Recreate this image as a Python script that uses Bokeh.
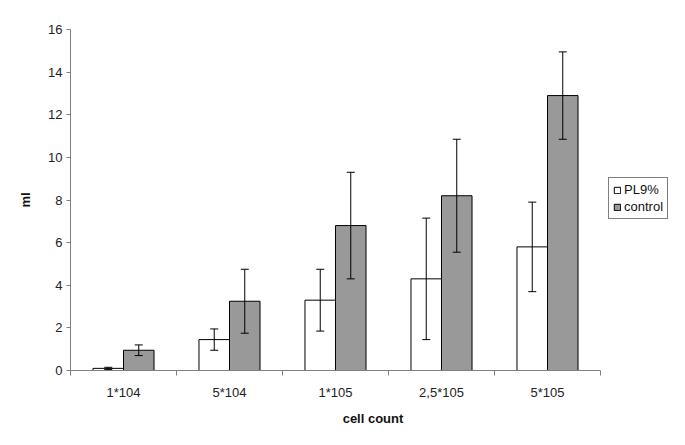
from bokeh.plotting import figure
from bokeh.models import (ColumnDataSource, Whisker, TeeHead, FixedTicker, Legend, LegendItem, Range1d)
from bokeh.embed import file_html
from bokeh.resources import INLINE

categories = ["1*104", "5*104", "1*105", "2,5*105", "5*105"]
pl9 = [0.1, 1.45, 3.3, 4.3, 5.8]
pl9_err = [0.05, 0.5, 1.45, 2.85, 2.1]
control = [0.95, 3.25, 6.8, 8.2, 12.9]
control_err = [0.25, 1.5, 2.5, 2.65, 2.05]
y_ticks = [0, 2, 4, 6, 8, 10, 12, 14, 16]

FONT = "Liberation Sans"
bw = 0.288
off = bw / 2
n = len(categories)

idx = list(range(n))
src_pl = ColumnDataSource(dict(
    x=[i + 0.5 - off for i in idx], top=pl9,
    upper=[v + e for v, e in zip(pl9, pl9_err)],
    lower=[v - e for v, e in zip(pl9, pl9_err)]))
src_ct = ColumnDataSource(dict(
    x=[i + 0.5 + off for i in idx], top=control,
    upper=[v + e for v, e in zip(control, control_err)],
    lower=[v - e for v, e in zip(control, control_err)]))

W, H = 680, 430
BL, BR, BT, BB = 70, 5, 29, 60
frame_w = W - BL - BR
cat_px = 106.0
x_end = n + (frame_w - n * cat_px) / cat_px

p = figure(width=W, height=H, output_backend="svg", toolbar_location=None,
           x_range=Range1d(0, x_end), y_range=Range1d(0, 16),
           min_border_left=BL, min_border_right=BR, min_border_top=BT, min_border_bottom=BB)
p.outline_line_color = None
p.xgrid.visible = False
p.ygrid.visible = False
p.background_fill_color = "white"

r1 = p.vbar(x="x", top="top", width=bw, source=src_pl, fill_color="white", line_color="black", line_width=1)
r2 = p.vbar(x="x", top="top", width=bw, source=src_ct, fill_color="#999999", line_color="black", line_width=1)

for src in (src_pl, src_ct):
    w = Whisker(base="x", upper="upper", lower="lower", source=src,
                line_color="black", line_width=1, level="annotation",
                upper_head=TeeHead(size=8, line_color="black", line_width=1),
                lower_head=TeeHead(size=8, line_color="black", line_width=1))
    p.add_layout(w)

# x axis
p.xaxis.ticker = FixedTicker(ticks=[i + 0.5 for i in idx], minor_ticks=[float(i) for i in range(n + 1)])
p.xaxis.major_label_overrides = {i + 0.5: c for i, c in zip(idx, categories)}
p.xaxis.bounds = (0, n)
p.xaxis.major_tick_out = 0
p.xaxis.major_tick_in = 0
p.xaxis.minor_tick_out = 5
p.xaxis.minor_tick_in = 0
p.xaxis.minor_tick_line_color = "#808080"
p.xaxis.axis_label = "cell count"

p.yaxis.ticker = FixedTicker(ticks=y_ticks)
p.yaxis.major_tick_out = 4
p.yaxis.major_tick_in = 0
p.yaxis.minor_tick_line_color = None
p.yaxis.axis_label = "ml"

for ax in (p.xaxis[0], p.yaxis[0]):
    ax.axis_line_color = "#808080"
    ax.major_tick_line_color = "#808080"
    ax.major_label_text_font = FONT
    ax.major_label_text_font_size = "13px"
    ax.major_label_text_color = "#222222"
    ax.axis_label_text_font = FONT
    ax.axis_label_text_font_size = "13px"
    ax.axis_label_text_font_style = "bold"
    ax.axis_label_text_color = "#111111"

p.xaxis.major_label_standoff = 9
p.xaxis.axis_label_standoff = 8
p.yaxis.major_label_standoff = 4
p.yaxis.axis_label_standoff = 12

legend = Legend(items=[LegendItem(label="PL9%", renderers=[r1]),
                       LegendItem(label="control", renderers=[r2])],
                location=(538, 151))
legend.label_text_font = FONT
legend.label_text_font_size = "13px"
legend.label_text_color = "#111111"
legend.glyph_width = 8
legend.glyph_height = 8
legend.label_height = 13
legend.label_standoff = 3
legend.spacing = 2
legend.padding = 4
legend.margin = 0
legend.border_line_color = "black"
legend.border_line_width = 1
legend.background_fill_color = "white"
p.add_layout(legend, "center")

open("out.html", "w").write(file_html(p, INLINE))
